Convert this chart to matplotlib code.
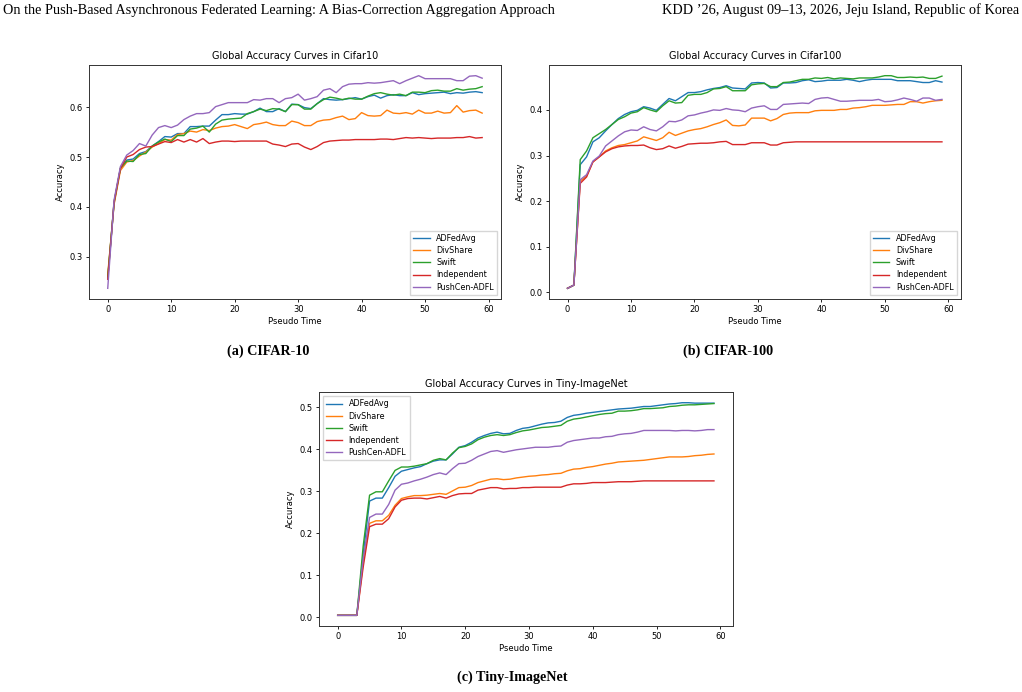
import matplotlib
matplotlib.use("Agg")
import matplotlib.pyplot as plt
import numpy as np

steps = np.arange(60)
methods = ["ADFedAvg", "DivShare", "Swift", "Independent", "PushCen-ADFL"]
colors = ["#1f77b4", "#ff7f0e", "#2ca02c", "#d62728", "#9467bd"]

# Cifar10
c10_adfedavg = [0.257, 0.407, 0.477, 0.494, 0.496, 0.507, 0.511, 0.522, 0.531, 0.541,
                0.540, 0.547, 0.547, 0.561, 0.561, 0.562, 0.562, 0.574, 0.585, 0.585,
                0.587, 0.586, 0.586, 0.591, 0.598, 0.591, 0.591, 0.597, 0.591, 0.606,
                0.605, 0.599, 0.597, 0.607, 0.617, 0.615, 0.614, 0.615, 0.617, 0.619,
                0.616, 0.621, 0.624, 0.618, 0.623, 0.625, 0.623, 0.623, 0.629, 0.625,
                0.627, 0.628, 0.629, 0.630, 0.627, 0.629, 0.628, 0.630, 0.631, 0.629]
c10_divshare = [0.265, 0.405, 0.473, 0.490, 0.493, 0.502, 0.510, 0.520, 0.527, 0.535,
                0.534, 0.545, 0.547, 0.552, 0.550, 0.555, 0.553, 0.558, 0.561, 0.562,
                0.565, 0.561, 0.557, 0.565, 0.567, 0.570, 0.565, 0.563, 0.563, 0.572,
                0.569, 0.563, 0.563, 0.571, 0.574, 0.575, 0.579, 0.582, 0.575, 0.577,
                0.589, 0.583, 0.582, 0.583, 0.594, 0.588, 0.587, 0.589, 0.586, 0.594,
                0.588, 0.588, 0.592, 0.588, 0.589, 0.603, 0.590, 0.593, 0.594, 0.588]
c10_swift = [0.260, 0.410, 0.478, 0.492, 0.491, 0.505, 0.507, 0.522, 0.530, 0.536,
             0.531, 0.543, 0.543, 0.556, 0.558, 0.562, 0.550, 0.566, 0.574, 0.576,
             0.577, 0.578, 0.587, 0.591, 0.596, 0.593, 0.597, 0.596, 0.591, 0.605,
             0.605, 0.596, 0.596, 0.607, 0.615, 0.620, 0.618, 0.615, 0.618, 0.616,
             0.616, 0.622, 0.627, 0.629, 0.626, 0.624, 0.626, 0.623, 0.630, 0.630,
             0.629, 0.633, 0.634, 0.632, 0.632, 0.637, 0.634, 0.636, 0.637, 0.641]
c10_independent = [0.255, 0.410, 0.477, 0.500, 0.505, 0.515, 0.520, 0.521, 0.526, 0.531,
                   0.529, 0.535, 0.530, 0.535, 0.530, 0.537, 0.527, 0.530, 0.532, 0.532,
                   0.531, 0.532, 0.532, 0.532, 0.532, 0.532, 0.526, 0.524, 0.521, 0.526,
                   0.527, 0.520, 0.515, 0.521, 0.529, 0.532, 0.533, 0.534, 0.534, 0.535,
                   0.535, 0.535, 0.535, 0.536, 0.536, 0.535, 0.537, 0.539, 0.538, 0.539,
                   0.538, 0.537, 0.538, 0.538, 0.538, 0.539, 0.539, 0.541, 0.538, 0.539]
c10_pushcen = [0.237, 0.414, 0.481, 0.504, 0.513, 0.527, 0.522, 0.544, 0.559, 0.563,
               0.559, 0.564, 0.575, 0.582, 0.587, 0.587, 0.589, 0.601, 0.605, 0.609,
               0.609, 0.609, 0.609, 0.615, 0.614, 0.617, 0.617, 0.609, 0.617, 0.619,
               0.626, 0.614, 0.617, 0.621, 0.634, 0.637, 0.629, 0.641, 0.646, 0.647,
               0.647, 0.649, 0.648, 0.649, 0.651, 0.653, 0.647, 0.653, 0.658, 0.663,
               0.657, 0.657, 0.657, 0.657, 0.657, 0.653, 0.653, 0.662, 0.663, 0.658]

# Cifar100
c100_adfedavg = [0.009, 0.016, 0.280, 0.297, 0.330, 0.339, 0.354, 0.368, 0.381, 0.390,
                 0.396, 0.399, 0.407, 0.404, 0.399, 0.412, 0.425, 0.420, 0.429, 0.438,
                 0.438, 0.440, 0.444, 0.447, 0.449, 0.453, 0.448, 0.447, 0.446, 0.459,
                 0.460, 0.459, 0.448, 0.449, 0.459, 0.459, 0.460, 0.464, 0.466, 0.462,
                 0.463, 0.465, 0.465, 0.465, 0.467, 0.465, 0.462, 0.465, 0.467, 0.467,
                 0.467, 0.467, 0.464, 0.464, 0.464, 0.462, 0.460, 0.460, 0.464, 0.461]
c100_divshare = [0.009, 0.016, 0.244, 0.255, 0.286, 0.297, 0.310, 0.317, 0.322, 0.324,
                 0.328, 0.332, 0.341, 0.337, 0.333, 0.339, 0.351, 0.344, 0.349, 0.354,
                 0.357, 0.359, 0.363, 0.368, 0.372, 0.378, 0.366, 0.365, 0.367, 0.382,
                 0.382, 0.382, 0.376, 0.381, 0.390, 0.393, 0.394, 0.394, 0.394, 0.398,
                 0.399, 0.399, 0.399, 0.401, 0.401, 0.404, 0.405, 0.407, 0.410, 0.410,
                 0.410, 0.411, 0.412, 0.412, 0.418, 0.418, 0.415, 0.418, 0.420, 0.421]
c100_swift = [0.009, 0.016, 0.291, 0.310, 0.339, 0.348, 0.357, 0.368, 0.379, 0.385,
              0.393, 0.396, 0.405, 0.400, 0.396, 0.409, 0.420, 0.415, 0.416, 0.432,
              0.434, 0.434, 0.438, 0.446, 0.447, 0.451, 0.442, 0.442, 0.442, 0.455,
              0.457, 0.458, 0.451, 0.451, 0.460, 0.461, 0.464, 0.467, 0.467, 0.470,
              0.469, 0.471, 0.468, 0.470, 0.469, 0.468, 0.470, 0.470, 0.470, 0.472,
              0.475, 0.475, 0.471, 0.471, 0.472, 0.471, 0.472, 0.469, 0.469, 0.474]
c100_independent = [0.009, 0.016, 0.239, 0.253, 0.286, 0.297, 0.308, 0.315, 0.319, 0.321,
                    0.322, 0.322, 0.323, 0.317, 0.313, 0.315, 0.321, 0.316, 0.320, 0.325,
                    0.326, 0.327, 0.327, 0.328, 0.330, 0.331, 0.324, 0.324, 0.324, 0.328,
                    0.328, 0.328, 0.323, 0.323, 0.328, 0.329, 0.330, 0.330, 0.330, 0.330,
                    0.330, 0.330, 0.330, 0.330, 0.330, 0.330, 0.330, 0.330, 0.330, 0.330,
                    0.330, 0.330, 0.330, 0.330, 0.330, 0.330, 0.330, 0.330, 0.330, 0.330]
c100_pushcen = [0.009, 0.016, 0.247, 0.258, 0.288, 0.299, 0.321, 0.332, 0.343, 0.352,
                0.356, 0.355, 0.363, 0.357, 0.354, 0.363, 0.375, 0.374, 0.378, 0.387,
                0.389, 0.393, 0.396, 0.400, 0.399, 0.403, 0.400, 0.399, 0.396, 0.404,
                0.407, 0.409, 0.401, 0.401, 0.412, 0.413, 0.414, 0.415, 0.414, 0.423,
                0.426, 0.427, 0.423, 0.419, 0.419, 0.420, 0.421, 0.421, 0.421, 0.423,
                0.418, 0.419, 0.422, 0.426, 0.423, 0.419, 0.426, 0.426, 0.421, 0.423]

# Tiny-ImageNet
tin_adfedavg = [0.005, 0.005, 0.005, 0.005, 0.150, 0.277, 0.284, 0.284, 0.309, 0.336,
                0.348, 0.352, 0.356, 0.359, 0.366, 0.372, 0.375, 0.375, 0.389, 0.405,
                0.409, 0.417, 0.427, 0.433, 0.438, 0.441, 0.437, 0.438, 0.445, 0.450,
                0.452, 0.456, 0.460, 0.463, 0.464, 0.467, 0.476, 0.481, 0.483, 0.486,
                0.488, 0.490, 0.492, 0.494, 0.496, 0.497, 0.498, 0.500, 0.502, 0.502,
                0.504, 0.506, 0.508, 0.509, 0.511, 0.511, 0.510, 0.510, 0.510, 0.510]
tin_divshare = [0.005, 0.005, 0.005, 0.005, 0.130, 0.224, 0.230, 0.230, 0.243, 0.267,
                0.283, 0.287, 0.290, 0.290, 0.291, 0.293, 0.295, 0.293, 0.301, 0.309,
                0.310, 0.314, 0.321, 0.325, 0.329, 0.330, 0.328, 0.329, 0.332, 0.334,
                0.336, 0.337, 0.339, 0.340, 0.342, 0.343, 0.349, 0.353, 0.354, 0.357,
                0.359, 0.362, 0.365, 0.367, 0.370, 0.371, 0.372, 0.373, 0.374, 0.376,
                0.378, 0.380, 0.382, 0.382, 0.382, 0.383, 0.385, 0.386, 0.388, 0.389]
tin_swift = [0.005, 0.005, 0.005, 0.005, 0.170, 0.291, 0.299, 0.299, 0.325, 0.350,
             0.358, 0.358, 0.360, 0.363, 0.366, 0.374, 0.378, 0.375, 0.391, 0.404,
             0.407, 0.413, 0.423, 0.429, 0.433, 0.435, 0.433, 0.435, 0.440, 0.444,
             0.446, 0.449, 0.452, 0.453, 0.455, 0.457, 0.467, 0.472, 0.474, 0.477,
             0.480, 0.483, 0.485, 0.486, 0.491, 0.491, 0.492, 0.494, 0.497, 0.497,
             0.498, 0.499, 0.502, 0.503, 0.505, 0.506, 0.506, 0.507, 0.508, 0.509]
tin_independent = [0.005, 0.005, 0.005, 0.005, 0.120, 0.216, 0.222, 0.222, 0.235, 0.263,
                   0.279, 0.283, 0.284, 0.284, 0.282, 0.285, 0.288, 0.284, 0.290, 0.294,
                   0.295, 0.295, 0.303, 0.306, 0.309, 0.309, 0.306, 0.307, 0.307, 0.309,
                   0.309, 0.310, 0.310, 0.310, 0.310, 0.310, 0.315, 0.318, 0.318, 0.319,
                   0.321, 0.321, 0.321, 0.322, 0.323, 0.323, 0.323, 0.324, 0.325, 0.325,
                   0.325, 0.325, 0.325, 0.325, 0.325, 0.325, 0.325, 0.325, 0.325, 0.325]
tin_pushcen = [0.005, 0.005, 0.005, 0.005, 0.140, 0.238, 0.246, 0.246, 0.269, 0.303,
               0.317, 0.320, 0.325, 0.329, 0.334, 0.340, 0.344, 0.340, 0.354, 0.366,
               0.367, 0.374, 0.383, 0.389, 0.395, 0.397, 0.393, 0.396, 0.399, 0.401,
               0.403, 0.405, 0.405, 0.405, 0.407, 0.408, 0.417, 0.421, 0.423, 0.425,
               0.427, 0.427, 0.430, 0.431, 0.435, 0.437, 0.438, 0.441, 0.445, 0.445,
               0.445, 0.445, 0.445, 0.444, 0.445, 0.445, 0.444, 0.445, 0.447, 0.447]

panels = [
    ("Global Accuracy Curves in Cifar10",
     [c10_adfedavg, c10_divshare, c10_swift, c10_independent, c10_pushcen], "lower right"),
    ("Global Accuracy Curves in Cifar100",
     [c100_adfedavg, c100_divshare, c100_swift, c100_independent, c100_pushcen], "lower right"),
    ("Global Accuracy Curves in Tiny-ImageNet",
     [tin_adfedavg, tin_divshare, tin_swift, tin_independent, tin_pushcen], "upper left"),
]
captions = ["(a) CIFAR-10", "(b) CIFAR-100", "(c) Tiny-ImageNet"]

fig = plt.figure(figsize=(10.22, 6.92), dpi=100)
rects = [[0.0871, 0.568, 0.403, 0.338],
         [0.537, 0.568, 0.403, 0.338],
         [0.312, 0.0954, 0.405, 0.338]]

fs = 6
for (title, series, loc), rect in zip(panels, rects):
    ax = fig.add_axes(rect)
    for name, vals, c in zip(methods, series, colors):
        ax.plot(steps, vals, color=c, lw=1.0, label=name)
    ax.set_title(title, fontsize=7.0, pad=4)
    ax.set_xlabel("Pseudo Time", fontsize=fs, labelpad=2)
    ax.set_ylabel("Accuracy", fontsize=fs, labelpad=3)
    ax.tick_params(labelsize=fs, length=2.5, width=0.6, pad=2)
    for s in ax.spines.values():
        s.set_linewidth(0.7)
        s.set_color("#333333")
    ax.legend(loc=loc, fontsize=5.8, frameon=True, handlelength=2.0,
              borderpad=0.4, labelspacing=0.4, fancybox=False)

fig.text(0.003, 0.985, "On the Push-Based Asynchronous Federated Learning: A Bias-Correction Aggregation Approach",
         family="Liberation Serif", fontsize=10.3, ha="left", va="center")
fig.text(0.997, 0.985, "KDD \u201926, August 09\u201313, 2026, Jeju Island, Republic of Korea",
         family="Liberation Serif", fontsize=10.3, ha="right", va="center")

fig.text(268 / 1022, 1 - 351 / 692, captions[0], family="Liberation Serif",
         fontweight="bold", fontsize=10.2, ha="center", va="center")
fig.text(728 / 1022, 1 - 351 / 692, captions[1], family="Liberation Serif",
         fontweight="bold", fontsize=10.2, ha="center", va="center")
fig.text(512 / 1022, 1 - 677 / 692, captions[2], family="Liberation Serif",
         fontweight="bold", fontsize=10.2, ha="center", va="center")

fig.savefig("out.png", dpi=100)
